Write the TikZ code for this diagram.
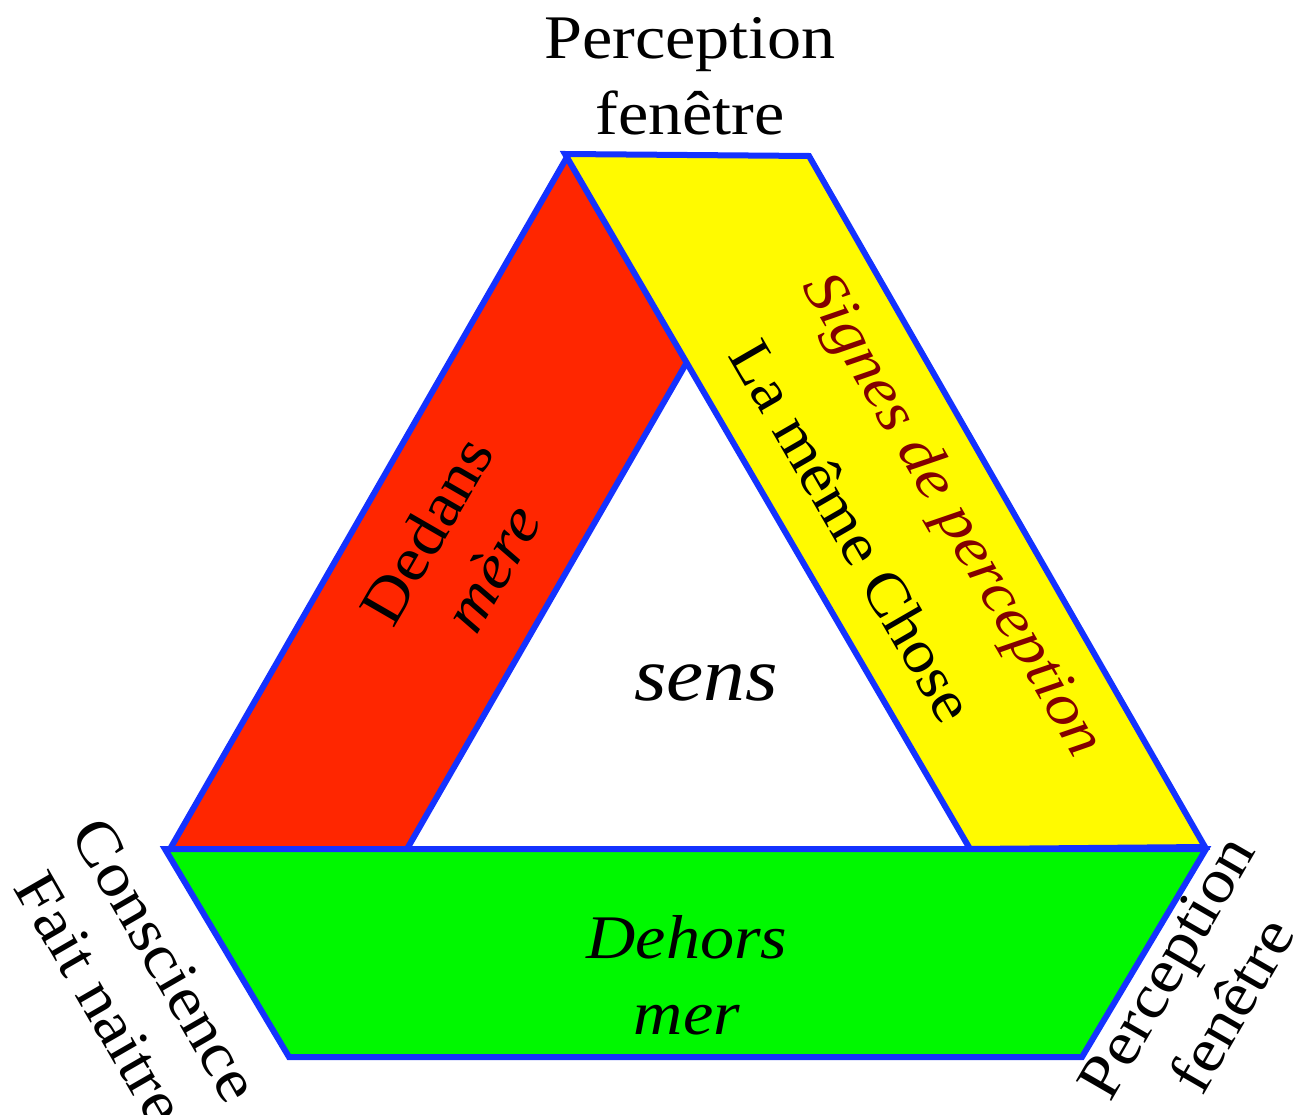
\documentclass[tikz,border=0pt]{standalone}
\usepackage{fontspec}
\setmainfont{Liberation Serif}[FakeStretch=1.1]
\begin{document}
\begin{tikzpicture}[x=1pt,y=-1pt,
  face/.style={draw=edgeblue,line width=6pt,line join=miter},
  lbl/.style={inner sep=0pt,align=center,font=\fontsize{62}{76}\selectfont},
  ilbl/.style={lbl,font=\fontsize{62}{76}\selectfont\itshape}]
\definecolor{edgeblue}{RGB}{20,50,255}
\definecolor{redface}{RGB}{255,38,0}
\definecolor{yellowface}{RGB}{255,250,0}
\definecolor{greenface}{RGB}{0,248,0}
\definecolor{darkred}{RGB}{130,0,0}
\useasboundingbox (0,0) rectangle (1306,1115);
% vertices
\coordinate (top) at (567,157);
\coordinate (ytl) at (565,154);
\coordinate (ytr) at (809,156);
\coordinate (ybr) at (1205,847);
\coordinate (ybl) at (970,849);
\coordinate (rbl) at (170,849);
\coordinate (rbr) at (407,849);
\coordinate (rin) at (687,362);
\coordinate (gtl) at (165,849);
\coordinate (gtr) at (1206,849);
\coordinate (gbr) at (1082,1057);
\coordinate (gbl) at (289,1057);
% faces
\filldraw[face,fill=redface] (top) -- (rbl) -- (rbr) -- (rin) -- cycle;
\filldraw[face,fill=yellowface] (ytl) -- (ytr) -- (ybr) -- (ybl) -- cycle;
\filldraw[face,fill=greenface] (gtl) -- (gtr) -- (gbr) -- (gbl) -- cycle;
% labels
\node[lbl] (ptop) at (690,76) {Perception\\fenêtre};
\node[lbl,rotate=60] (dedans) at (459,549) {Dedans\\\itshape mère};
\node[ilbl,font=\fontsize{60}{76}\selectfont\itshape,text=darkred,rotate=-60] (signes) at (951,516) {Signes de perception};
\node[lbl,font=\fontsize{60}{76}\selectfont,rotate=-60] (chose) at (853,531) {La même Chose};
\node[ilbl,font=\fontsize{76}{90}\selectfont\itshape] (sens) at (706,683) {sens};
\node[ilbl] (dehors) at (687,975) {Dehors\\mer};
\node[lbl,rotate=-60] (consc) at (133,979) {Conscience\\Fait naitre};
\node[lbl,rotate=60] (pbr) at (1199,986) {Perception\\fenêtre};
\end{tikzpicture}
\end{document}
